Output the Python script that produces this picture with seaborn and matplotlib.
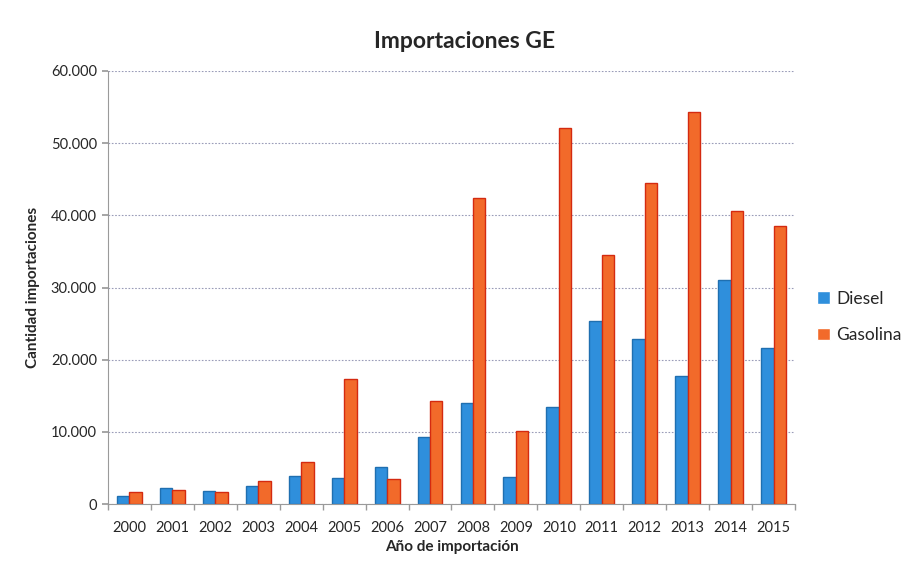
import matplotlib
matplotlib.use("Agg")
import matplotlib.pyplot as plt
import seaborn as sns
import pandas as pd
from matplotlib.ticker import FuncFormatter, MultipleLocator

years = ["2000", "2001", "2002", "2003", "2004", "2005", "2006", "2007",
         "2008", "2009", "2010", "2011", "2012", "2013", "2014", "2015"]
diesel = [1100, 2200, 1800, 2500, 3900, 3600, 5100, 9300,
          14000, 3700, 13400, 25400, 22900, 17700, 31100, 21600]
gasolina = [1600, 1900, 1600, 3200, 5800, 17300, 3500, 14300,
            42400, 10100, 52100, 34500, 44500, 54300, 40600, 38500]
series = ["Diesel", "Gasolina"]

df = pd.DataFrame({
    "year": years * 2,
    "value": diesel + gasolina,
    "serie": [series[0]] * len(years) + [series[1]] * len(years),
})

sns.set_theme(style="white")
plt.rcParams['font.family'] = ['Lato', 'DejaVu Sans']

fig = plt.figure(figsize=(9.06, 5.74), dpi=100)
ax = fig.add_axes([108/906, 1-504/574, (795-108)/906, (504-71)/574])

palette = {"Diesel": "#2f8fdc", "Gasolina": "#f26a2a"}
sns.barplot(data=df, x="year", y="value", hue="serie", palette=palette,
            width=0.58, ax=ax, saturation=1, legend=True)

edge = {"Diesel": "#1f6fb0", "Gasolina": "#d42a10"}
for container, name in zip(ax.containers, series):
    for p in container:
        p.set_edgecolor(edge[name])
        p.set_linewidth(1.0)

ax.set_ylim(0, 60000)
ax.set_xlim(-0.5, len(years) - 0.5)
ax.yaxis.set_major_locator(MultipleLocator(10000))
ax.yaxis.set_major_formatter(FuncFormatter(lambda v, p: "0" if v == 0 else f"{int(v):,}".replace(",", ".")))
ax.yaxis.grid(True, linestyle=(0, (1.5, 1.5)), color="#9a9cb8", linewidth=0.8)
ax.set_axisbelow(True)

for s in ["top", "right"]:
    ax.spines[s].set_visible(False)
for s in ["left", "bottom"]:
    ax.spines[s].set_color("#9a9a9a")
    ax.spines[s].set_linewidth(0.8)

ax.tick_params(axis="y", which="major", left=True, length=4, color="#9a9a9a", labelsize=10.5, pad=4)
ax.set_xticks(range(len(years)))
ax.set_xticklabels(years)
ax.tick_params(axis="x", which="major", bottom=False, labelsize=10.5, pad=6)
ax.set_xticks([i + 0.5 for i in range(-1, len(years))], minor=True)
ax.tick_params(axis="x", which="minor", bottom=True, length=4, color="#9a9a9a")

ax.set_xlabel("Año de importación", fontsize=11, fontweight="bold", labelpad=4)
ax.set_ylabel("Cantidad importaciones", fontsize=11, fontweight="bold", labelpad=8)
fig.text(465/906, 1-42/574, "Importaciones GE", ha="center", va="center",
         fontsize=16.5, fontweight="bold")

leg = ax.legend(loc="center left", bbox_to_anchor=(1.01, 0.432), frameon=False,
                fontsize=12.5, handlelength=0.7, handleheight=0.7, handletextpad=0.4,
                labelspacing=1.2)

fig.savefig("out.png", dpi=100, facecolor="white")
